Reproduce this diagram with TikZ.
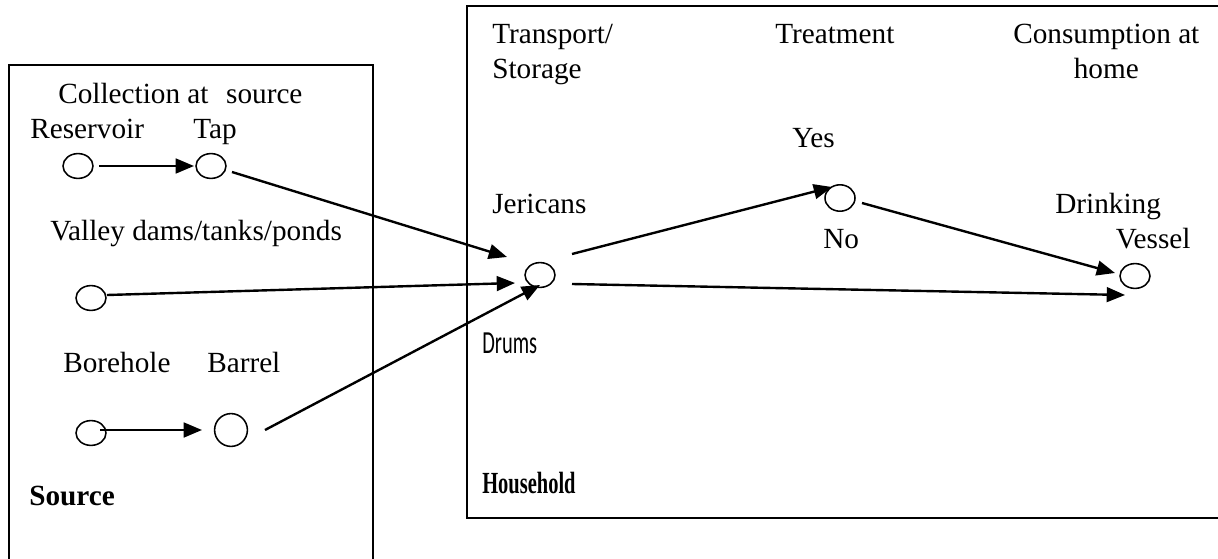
\documentclass[tikz,border=0pt]{standalone}
\usepackage{fontspec}
\setmainfont{Liberation Serif}
\newfontfamily\drumsfont{Carlito}
\usetikzlibrary{shapes.geometric, arrows.meta, positioning, calc}

\begin{document}
\begin{tikzpicture}[
    x=0.025cm, y=-0.025cm,
    font=\fontsize{20.8}{24.2}\selectfont,
    spot/.style={ellipse, draw, line width=1.1pt, minimum width=0.75cm, minimum height=0.62cm, inner sep=0},
    lbl/.style={anchor=base west, inner sep=0, align=left},
    arr/.style={-{Triangle[length=13pt, width=10.5pt]}, line width=1.7pt},
    frame/.style={line width=1.4pt}
]
    \useasboundingbox (0,0) rectangle (1218,559);

    % boxes
    \draw[frame] (9,559) -- (9,65) -- (373,65) -- (373,559);
    \draw[frame] (1218,6) -- (467,6) -- (467,518) -- (1218,518);

    % points
    \node[spot] (res) at (78,166) {};
    \node[spot] (tap) at (211,166) {};
    \node[spot] (valley) at (91,298) {};
    \node[spot] (bore) at (91,433) {};
    \node[spot, minimum width=0.82cm, minimum height=0.82cm] (barrel) at (231,430) {};
    \node[spot] (drums) at (540,275) {};
    \node[spot, minimum height=0.66cm] (treat) at (840,198) {};
    \node[spot] (vessel) at (1135,276) {};

    % labels
    \node[lbl] (collect) at (58,103) {Collection at\hspace{0.6em}source};
    \node[lbl] (reslbl) at (30,138) {Reservoir};
    \node[lbl] (taplbl) at (193,138) {Tap};
    \node[lbl] (valleylbl) at (50,240) {Valley dams/tanks/ponds};
    \node[lbl] (borelbl) at (63,372) {Borehole};
    \node[lbl] (barrellbl) at (207,372) {Barrel};
    \node[lbl, font=\fontsize{20.8}{24.2}\selectfont\bfseries] (source) at (29,505) {Source};

    \node[lbl] (transport) at (492,78) {Transport/\\Storage};
    \node[lbl] (treatment) at (775,44) {Treatment};
    \node[lbl, align=center] (consume) at (1013,78) {Consumption at\\home};
    \node[lbl] (yes) at (792,147) {Yes};
    \node[lbl] (jericans) at (492,213) {Jericans};
    \node[lbl] (no) at (823,248) {No};
    \node[lbl] (drink) at (1055,248) {Drinking\\\hspace*{2.07em}Vessel};
    \node[lbl] (drumslbl) at (482,353) {\scalebox{0.7}[1.1]{\drumsfont Drums}};
    \node[lbl] (household) at (482,493) {\scalebox{0.7}[1.05]{\bfseries Household}};

    % flows
    \draw[arr] ([shift={(21,0)}]res.center) -- ([shift={(-17,0)}]tap.center);
    \draw[arr] ([shift={(21,6)}]tap.center) -- ([shift={(-33,-18)}]drums.center);
    \draw[arr] ([shift={(16,-3)}]valley.center) -- ([shift={(-25,8)}]drums.center);
    \draw[arr] ([shift={(9,-3)}]bore.center) -- ([shift={(-29,0)}]barrel.center);
    \draw[arr] ([shift={(34,0)}]barrel.center) -- ([shift={(0,10)}]drums.center);
    \draw[arr] ([shift={(32,-21)}]drums.center) -- ([shift={(-8,-11)}]treat.center);
    \draw[arr] ([shift={(32,9)}]drums.center) -- ([shift={(-10,19)}]vessel.center);
    \draw[arr] ([shift={(22,5)}]treat.center) -- ([shift={(-20,-3)}]vessel.center);
\end{tikzpicture}
\end{document}
